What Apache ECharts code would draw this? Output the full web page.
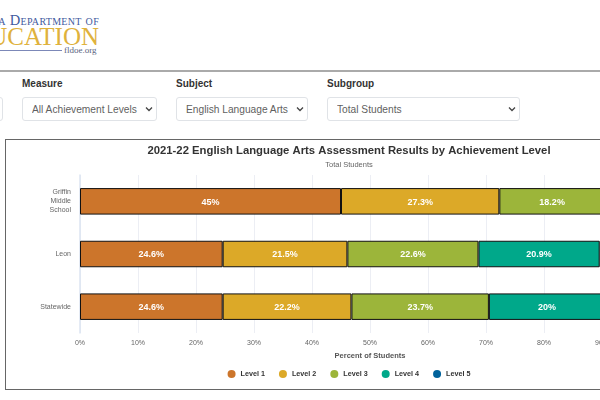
<!DOCTYPE html>
<html>
<head>
<meta charset="utf-8">
<title>Assessment Results</title>
<script src="https://cdn.jsdelivr.net/npm/echarts@6/dist/echarts.min.js"></script>
<style>
html, body { margin: 0; padding: 0; width: 600px; height: 400px; overflow: hidden; background: #fff; font-family: "Liberation Sans", Arial, sans-serif; }
.abs { position: absolute; white-space: nowrap; }
.fl { right: 501px; top: 12px; font-family: "Liberation Serif", serif; font-variant: small-caps; font-size: 14.5px; color: #3f5a9e; letter-spacing: .3px; }
.ed { right: 501px; top: 23px; font-family: "Liberation Serif", serif; font-size: 25px; color: #dfb23c; }
.rule { left: 0; top: 50px; width: 62px; height: 1px; background: #7c88b8; }
.org { left: 64px; top: 45px; font-family: "Liberation Serif", serif; font-size: 9px; color: #5a6480; }
.divider { left: 0; top: 70px; width: 600px; height: 2px; background: #aaa; }
.lbl { top: 78px; font-size: 10px; line-height: 12px; font-weight: bold; color: #333; }
select { position: absolute; top: 97px; height: 24px; box-sizing: border-box; appearance: none; -webkit-appearance: none; border: 1px solid #e0e3e7; border-radius: 3px; padding: 0 9px; font-family: inherit; font-size: 10.2px; color: #5f5f5f;
    background: #fff url("data:image/svg+xml,%3Csvg xmlns='http://www.w3.org/2000/svg' width='8' height='6'%3E%3Cpath d='M1 1.5l3 3 3-3' fill='none' stroke='%23444' stroke-width='1.3'/%3E%3C/svg%3E") no-repeat right 3px center; }
#frame { position: absolute; left: 4.5px; top: 138.5px; width: 700px; height: 249px; border-style: solid; border-color: #666; border-width: 1.5px 0 1.5px 1.5px; }
#chart { position: absolute; left: 6px; top: 140px; width: 686px; height: 249px; }
</style>
</head>
<body>
<div class="abs fl">Florida Department of</div>
<div class="abs ed">EDUCATION</div>
<div class="abs rule"></div>
<div class="abs org">fldoe.org</div>
<div class="abs divider"></div>
<div class="abs lbl" style="left:22px">Measure</div>
<div class="abs lbl" style="left:176px">Subject</div>
<div class="abs lbl" style="left:327px">Subgroup</div>
<select style="left:-100px;width:103px"><option>2021-22</option></select>
<select style="left:22px;width:135px"><option>All Achievement Levels</option></select>
<select style="left:176px;width:132px"><option>English Language Arts</option></select>
<select style="left:327px;width:193px"><option>Total Students</option></select>
<div id="frame"></div>
<div id="chart"></div>
<script>
const schools = ['Griffin\nMiddle\nSchool', 'Leon', 'Statewide'];
const levelNames = ['Level 1', 'Level 2', 'Level 3', 'Level 4', 'Level 5'];
const level1 = [45, 24.6, 24.6];
const level2 = [27.3, 21.5, 22.2];
const level3 = [18.2, 22.6, 23.7];
const level4 = [7.3, 20.9, 20];
const level5 = [2.2, 10.4, 9.5];
const levelColors = ['#cc752b', '#dca928', '#9cb53a', '#00a88a', '#00629b'];
const percentTicks = 10;

const allLevels = [level1, level2, level3, level4, level5];
const chart = echarts.init(document.getElementById('chart'));
chart.setOption({
    animation: false,
    color: levelColors,
    textStyle: { fontFamily: '"Liberation Sans", Arial, sans-serif' },
    title: {
        text: '2021-22 English Language Arts Assessment Results by Achievement Level',
        subtext: 'Total Students',
        left: 'center',
        top: 0,
        itemGap: 5,
        textStyle: { fontSize: 11.3, fontWeight: 'bold', color: '#333' },
        subtextStyle: { fontSize: 7.5, color: '#666' }
    },
    legend: {
        data: levelNames,
        bottom: 6,
        left: 'center',
        icon: 'circle',
        itemWidth: 8,
        itemHeight: 8,
        itemGap: 14,
        itemStyle: { borderWidth: 0 },
        textStyle: { fontSize: 7.2, fontWeight: 'bold', color: '#333' }
    },
    grid: { left: 74, top: 35, width: 580, height: 158 },
    xAxis: {
        type: 'value',
        min: 0,
        max: 100,
        interval: percentTicks,
        name: 'Percent of Students',
        nameLocation: 'middle',
        nameGap: 14,
        nameTextStyle: { fontSize: 7.5, fontWeight: 'bold', color: '#555' },
        axisLabel: { fontSize: 7, color: '#666', margin: 7, formatter: '{value}%' },
        axisLine: { show: false },
        axisTick: { show: false },
        splitLine: { lineStyle: { color: '#eceef4', width: 1 } }
    },
    yAxis: {
        type: 'category',
        data: schools,
        inverse: true,
        axisLabel: { fontSize: 7, color: '#666', margin: 9, lineHeight: 9, padding: [3, 0, 0, 0] },
        axisLine: { lineStyle: { color: '#dde5f2', width: 1.5 } },
        axisTick: { show: false }
    },
    series: allLevels.map((values, i) => ({
        name: levelNames[i],
        type: 'bar',
        stack: 'total',
        barWidth: 26.5,
        data: values,
        itemStyle: { borderColor: '#111', borderWidth: 1 },
        label: {
            show: true,
            position: 'inside',
            offset: [0, 1],
            formatter: '{c}%',
            fontSize: 9,
            fontWeight: 'bold',
            color: '#fff'
        }
    }))
});
</script>
</body>
</html>
